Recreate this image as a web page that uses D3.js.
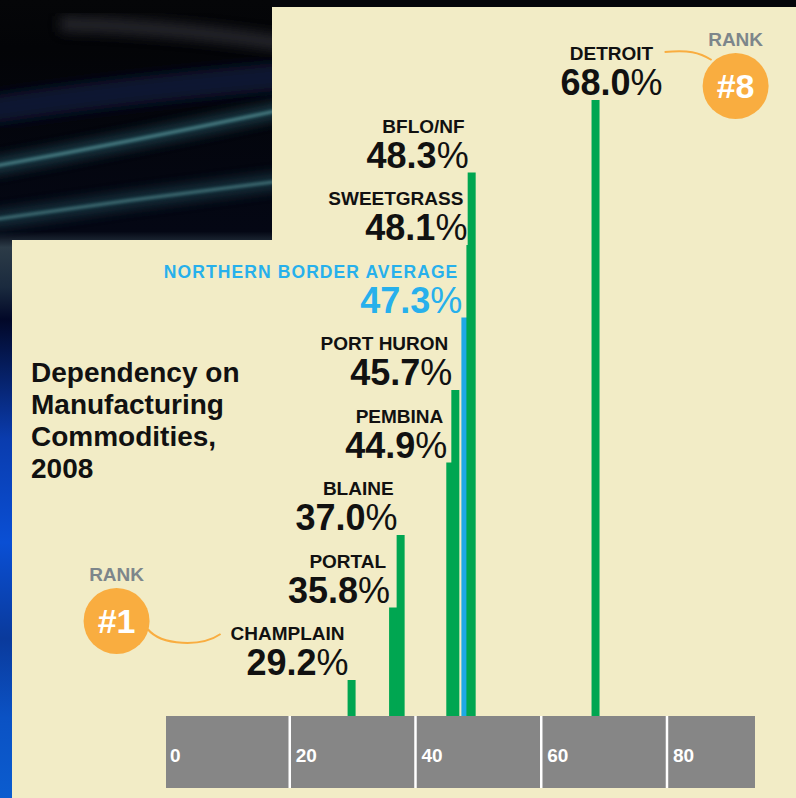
<!DOCTYPE html>
<html>
<head>
<meta charset="utf-8">
<script src="https://cdn.jsdelivr.net/npm/d3@7/dist/d3.min.js"></script>
<style>
  html, body { margin: 0; padding: 0; background: #000; }
  svg { display: block; font-family: "Liberation Sans", Arial, sans-serif; }
</style>
</head>
<body>
<svg id="chart" width="796" height="798"></svg>
<script>
// ---------- DATA ----------
const categories = ["CHAMPLAIN", "PORTAL", "BLAINE", "PEMBINA", "PORT HURON",
  "NORTHERN BORDER AVERAGE", "SWEETGRASS", "BFLO/NF", "DETROIT"];
const values = [29.2, 35.8, 37.0, 44.9, 45.7, 47.3, 48.1, 48.3, 68.0];
const averageCategory = "NORTHERN BORDER AVERAGE";
const tickValues = [0, 20, 40, 60, 80];
const titleLines = ["Dependency on", "Manufacturing", "Commodities,", "2008"];
const rankCategories = ["CHAMPLAIN", "DETROIT"];
const rankLabels = ["#1", "#8"];
const rankWord = "RANK";

// ---------- SETUP ----------
const W = 796, H = 798;
const svg = d3.select("#chart");
const cream = "#f2ecc6", green = "#00a651", blue = "#1fa9e6", orange = "#f9ad40";
const data = categories.map((c, i) => ({ c, v: values[i], avg: c === averageCategory, i }));

const defs = svg.append("defs");
const bg = defs.append("linearGradient").attr("id", "bgGrad")
  .attr("x1", 0).attr("y1", 0).attr("x2", 0).attr("y2", 1);
[[0, "#050608"], [0.06, "#030407"], [0.29, "#040714"], [0.31, "#2c3b47"], [0.36, "#1a2a3e"],
 [0.4, "#020828"], [0.55, "#0a3cae"], [0.68, "#0a4fd4"], [0.8, "#0a3a9c"], [0.9, "#0b52c4"], [1, "#0b5ccf"]]
  .forEach(([o, c]) => bg.append("stop").attr("offset", o).attr("stop-color", c));
const blur = defs.append("filter").attr("id", "blur").attr("x", "-20%").attr("y", "-50%")
  .attr("width", "140%").attr("height", "200%");
blur.append("feGaussianBlur").attr("stdDeviation", 6);
const blurS = defs.append("filter").attr("id", "blurS").attr("x", "-20%").attr("y", "-50%")
  .attr("width", "140%").attr("height", "200%");
blurS.append("feGaussianBlur").attr("stdDeviation", 1.4);

// background
svg.append("rect").attr("width", W).attr("height", H).attr("fill", "url(#bgGrad)");
svg.append("path").attr("d", "M60,24 Q170,26 300,46").attr("fill", "none")
  .attr("stroke", "#2e2f34").attr("stroke-width", 16).attr("filter", "url(#blur)").attr("opacity", 0.75);
svg.append("path").attr("d", "M-10,110 Q120,90 300,75").attr("fill", "none")
  .attr("stroke", "#0a1530").attr("stroke-width", 28).attr("filter", "url(#blur)");
[["M-10,167 Q140,140 290,108", 0.9], ["M-10,220 Q140,198 290,180", 0.75]].forEach(([d, op]) => {
  svg.append("path").attr("d", d).attr("fill", "none").attr("stroke", "#1b3c48")
    .attr("stroke-width", 16).attr("filter", "url(#blur)").attr("opacity", op);
  svg.append("path").attr("d", d).attr("fill", "none").attr("stroke", "#4f8a90")
    .attr("stroke-width", 3).attr("filter", "url(#blurS)").attr("opacity", op);
});
// top black strip
svg.append("rect").attr("x", 272).attr("y", 0).attr("width", W - 272).attr("height", 7).attr("fill", "#05060a");

// panels
svg.append("rect").attr("x", 272).attr("y", 7).attr("width", W - 272).attr("height", H - 7).attr("fill", cream);
svg.append("rect").attr("x", 12).attr("y", 240).attr("width", W - 12).attr("height", H - 240).attr("fill", cream);

// ---------- SCALES ----------
const axisTop = 716, axisBottom = 788;
const x = d3.scaleLinear().domain([0, 94]).range([164, 755]);
const y = d3.scalePoint().domain(categories).range([680, 100]);

// ---------- AXIS BAND ----------
svg.append("rect").attr("x", x(0) + 2).attr("y", axisTop)
  .attr("width", x(94) - x(0) - 2).attr("height", axisBottom - axisTop).attr("fill", "#868686");
svg.append("g").selectAll("line").data(tickValues.filter(t => t > 0)).join("line")
  .attr("x1", d => x(d)).attr("x2", d => x(d)).attr("y1", axisTop).attr("y2", axisBottom)
  .attr("stroke", "#fff").attr("stroke-width", 2.5);
svg.append("g").selectAll("text").data(tickValues).join("text")
  .attr("x", d => x(d) + 6).attr("y", 762).text(d => d)
  .attr("fill", "#fff").attr("font-size", 19).attr("font-weight", 700);

// ---------- BARS ----------
svg.append("g").selectAll("rect").data(data).join("rect")
  .attr("x", d => x(d.v)).attr("y", d => y(d.c))
  .attr("width", d => d.avg ? 6 : 8).attr("height", d => axisTop - y(d.c))
  .attr("fill", d => d.avg ? blue : green);

// ---------- LABELS ----------
const fmt = d3.format(".1f");
const last = data.length - 1;
const nameNodes = {};
data.forEach(d => {
  const g = svg.append("g");
  const isLast = d.i === last;
  const col = d.avg ? "#27b0ec" : "#111";
  const vt = g.append("text")
    .attr("x", isLast ? x(d.v) + 20 : x(d.v) + 1)
    .attr("y", y(d.c) - 5)
    .attr("text-anchor", isLast ? "middle" : "end")
    .attr("font-size", 36).attr("fill", col);
  vt.append("tspan").attr("font-weight", 700).text(fmt(d.v));
  vt.append("tspan").attr("font-weight", 400).text("%");
  const vb = vt.node().getBBox();
  const nt = g.append("text")
    .attr("x", isLast ? vb.x + vb.width / 2 : vb.x + vb.width - 4)
    .attr("y", y(d.c) - 40)
    .attr("text-anchor", isLast ? "middle" : "end")
    .attr("font-size", d.avg ? 17.5 : 19).attr("font-weight", 700)
    .attr("letter-spacing", d.avg ? 1.1 : 0)
    .attr("fill", col).text(d.c);
  nameNodes[d.c] = nt;
});

// ---------- TITLE ----------
svg.append("text").attr("x", 31).attr("y", 382)
  .attr("font-size", 28).attr("font-weight", 700).attr("fill", "#111")
  .selectAll("tspan").data(titleLines).join("tspan")
  .attr("x", 31).attr("dy", (d, i) => i === 0 ? 0 : 32).text(d => d);

// ---------- RANK BADGES ----------
const R = 33;
rankCategories.forEach((c, k) => {
  const nt = nameNodes[c];
  const b = nt.node().getBBox();
  const base = +nt.attr("y");
  let cx, cy, pathD, rankY;
  if (k === 0) {
    cx = b.x - 114; cy = base - 19;
    pathD = `M${cx + 31},${cy + 8} C${cx + 45},${cy + 25} ${cx + 85},${cy + 26} ${b.x - 10},${cy + 13}`;
    rankY = cy - 40;
  } else {
    const ex = b.x + b.width;
    cx = ex + 82; cy = base + 26;
    pathD = `M${ex + 11},${base - 8} C${ex + 35},${base - 10} ${ex + 45},${base - 8} ${cx - 24},${cy - 26}`;
    rankY = base - 14;
  }
  svg.append("path").attr("d", pathD).attr("fill", "none").attr("stroke", orange).attr("stroke-width", 2);
  svg.append("circle").attr("cx", cx).attr("cy", cy).attr("r", R).attr("fill", orange);
  svg.append("text").attr("x", cx).attr("y", cy + 12).attr("text-anchor", "middle")
    .attr("font-size", 34).attr("font-weight", 700).attr("fill", "#fff").text(rankLabels[k]);
  svg.append("text").attr("x", cx).attr("y", rankY).attr("text-anchor", "middle")
    .attr("font-size", 19).attr("font-weight", 700).attr("fill", "#7d868b").text(rankWord);
});
</script>
</body>
</html>
